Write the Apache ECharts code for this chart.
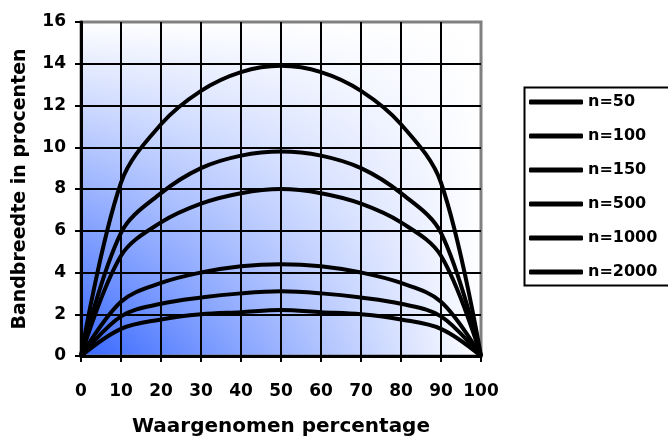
<!DOCTYPE html>
<html><head><meta charset="utf-8">
<script src="https://cdn.jsdelivr.net/npm/echarts@6/dist/echarts.min.js"></script>
<style>html,body{margin:0;padding:0;background:#fff}#c{width:668px;height:442px}</style>
</head><body><div id="c"></div>
<script>
const xValues = [0, 10, 20, 30, 40, 50, 60, 70, 80, 90, 100];
const seriesNames = ['n=50', 'n=100', 'n=150', 'n=500', 'n=1000', 'n=2000'];
const n50   = [0, 8.3, 11.1, 12.7, 13.6, 13.9, 13.6, 12.7, 11.1, 8.3, 0];
const n100  = [0, 5.9, 7.8, 9.0, 9.6, 9.8, 9.6, 9.0, 7.8, 5.9, 0];
const n150  = [0, 4.8, 6.4, 7.3, 7.8, 8.0, 7.8, 7.3, 6.4, 4.8, 0];
const n500  = [0, 2.6, 3.5, 4.0, 4.3, 4.4, 4.3, 4.0, 3.5, 2.6, 0];
const n1000 = [0, 1.9, 2.5, 2.8, 3.0, 3.1, 3.0, 2.8, 2.5, 1.9, 0];
const n2000 = [0, 1.3, 1.75, 2.0, 2.1, 2.2, 2.1, 2.0, 1.75, 1.3, 0];
const yTicks = [0, 2, 4, 6, 8, 10, 12, 14, 16];
const xTicks = [0, 10, 20, 30, 40, 50, 60, 70, 80, 90, 100];

const allValues = [n50, n100, n150, n500, n1000, n2000];
const FONT = 'DejaVu Sans';
const G = {left: 81, top: 22, width: 400, height: 334};

const chart = echarts.init(document.getElementById('c'), null, {renderer: 'canvas'});
chart.setOption({
  animation: false,
  backgroundColor: '#ffffff',
  grid: {
    left: G.left, top: G.top, width: G.width, height: G.height,
    containLabel: false, outerBoundsMode: 'none',
    show: true,
    borderColor: '#808080', borderWidth: 3,
    backgroundColor: 'transparent'
  },
  legend: {
    orient: 'vertical',
    left: 529, top: 92, padding: 0,
    icon: 'roundRect',
    itemWidth: 54, itemHeight: 5,
    itemGap: 14,
    textStyle: {fontFamily: FONT, fontWeight: 'bold', fontSize: 16, color: '#000', lineHeight: 20},
    data: seriesNames
  },
  graphic: [
    {
      type: 'rect', left: G.left, top: G.top, z: -10, silent: true,
      shape: {width: G.width, height: G.height},
      style: {fill: new echarts.graphic.LinearGradient(0, 0, 1, 0, [
        {offset: 0, color: '#3566ff'}, {offset: 1, color: '#ffffff'}
      ])}
    },
    {
      type: 'rect', left: G.left, top: G.top, z: -9, silent: true,
      shape: {width: G.width, height: G.height},
      style: {fill: new echarts.graphic.LinearGradient(0, 1, 0, 0, [
        {offset: 0, color: 'rgba(255,255,255,0)'}, {offset: 1, color: 'rgba(255,255,255,1)'}
      ])}
    },
    {
      type: 'rect', left: 522, top: 85, z: 1, silent: true,
      shape: {width: 160, height: 198},
      style: {fill: 'none', stroke: '#000', lineWidth: 2}
    }
  ],
  xAxis: {
    type: 'value', min: 0, max: 100, interval: 10,
    name: 'Waargenomen percentage', nameLocation: 'middle', nameGap: 61,
    nameTextStyle: {fontFamily: FONT, fontWeight: 'bold', fontSize: 20, color: '#000'},
    axisLine: {show: true, lineStyle: {color: '#000', width: 3}},
    axisTick: {show: true, length: 6, lineStyle: {color: '#000', width: 2}},
    axisLabel: {fontFamily: FONT, fontWeight: 'bold', fontSize: 17, color: '#000', margin: 27,
      formatter: v => xTicks.includes(v) ? String(v) : ''},
    splitLine: {show: true, showMinLine: false, showMaxLine: false, lineStyle: {color: '#000', width: 2}}
  },
  yAxis: {
    type: 'value', min: 0, max: 16, interval: 2,
    name: 'Bandbreedte in procenten', nameLocation: 'middle', nameGap: 51, nameRotate: 90,
    nameTextStyle: {fontFamily: FONT, fontWeight: 'bold', fontSize: 19, color: '#000'},
    axisLine: {show: true, lineStyle: {color: '#000', width: 3}},
    axisTick: {show: true, length: 6, lineStyle: {color: '#000', width: 2}},
    axisLabel: {fontFamily: FONT, fontWeight: 'bold', fontSize: 17, color: '#000', margin: 15,
      formatter: v => yTicks.includes(v) ? String(v) : ''},
    splitLine: {show: true, showMinLine: false, showMaxLine: false, lineStyle: {color: '#000', width: 2}}
  },
  series: seriesNames.map((name, i) => ({
    name, type: 'line', smooth: 0.35, showSymbol: false, symbol: 'none',
    data: xValues.map((x, j) => [x, allValues[i][j]]),
    lineStyle: {color: '#000', width: 4},
    itemStyle: {color: '#000'},
    z: 5
  }))
});
</script></body></html>
